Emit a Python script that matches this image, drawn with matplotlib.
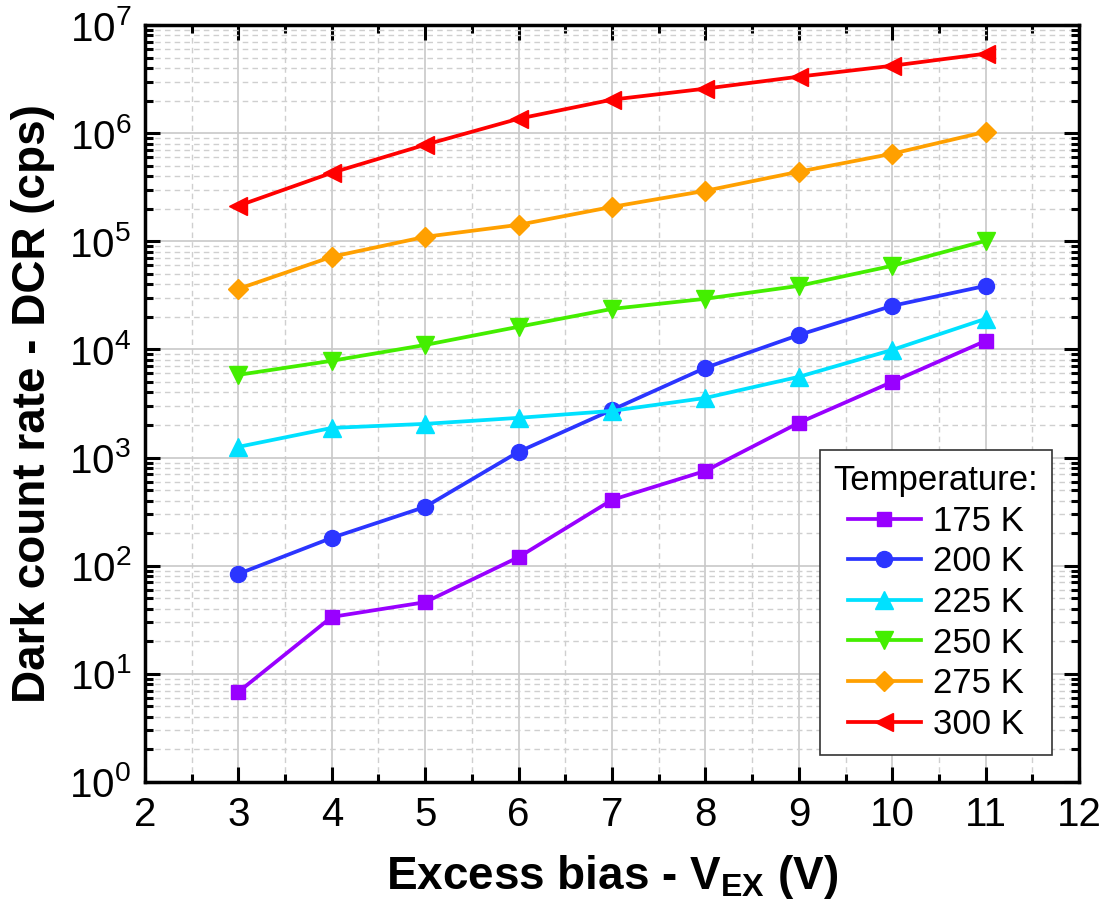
import matplotlib
matplotlib.use("Agg")
import matplotlib.pyplot as plt
from matplotlib.ticker import LogLocator, MultipleLocator, NullFormatter

plt.rcParams['font.family'] = ['Liberation Sans', 'DejaVu Sans']
plt.rcParams['mathtext.fontset'] = 'custom'
plt.rcParams['mathtext.rm'] = 'Liberation Sans'
plt.rcParams['mathtext.bf'] = 'Liberation Sans:bold'
plt.rcParams['mathtext.it'] = 'Liberation Sans:italic'

# 資料
bias = [3, 4, 5, 6, 7, 8, 9, 10, 11]
dcr_175 = [6.8, 33.6, 46, 120, 406, 753, 2095, 5010, 12000]
dcr_200 = [84, 181, 350, 1130, 2760, 6760, 13600, 25300, 38700]
dcr_225 = [1256, 1880, 2050, 2330, 2700, 3560, 5580, 9900, 19200]
dcr_250 = [5820, 7850, 11000, 16200, 23700, 29400, 38700, 59300, 101000]
dcr_275 = [36300, 71900, 110000, 142000, 208000, 293000, 440000, 645000, 1030000]
dcr_300 = [213000, 430000, 781000, 1360000, 2040000, 2580000, 3330000, 4200000, 5430000]

labels = ["175 K", "200 K", "225 K", "250 K", "275 K", "300 K"]
series = [dcr_175, dcr_200, dcr_225, dcr_250, dcr_275, dcr_300]
colors = ["#9900ff", "#2b35ff", "#00e1ff", "#44ee00", "#ffa000", "#ff0000"]
markers = ["s", "o", "^", "v", "D", "<"]
msizes = [10.5, 11.5, 12.5, 12.5, 10.5, 13.5]


def main():
    fig = plt.figure(figsize=(11.04, 9.16), dpi=100)
    ax = fig.add_axes([0.1313, 0.1463, 0.8461, 0.8264])

    for y, lab, c, m, ms in zip(series, labels, colors, markers, msizes):
        ax.plot(bias, y, color=c, marker=m, markersize=ms, linewidth=2.7,
                label=lab, zorder=3)

    ax.set_yscale('log')
    ax.set_xlim(2, 12)
    ax.set_ylim(1, 1e7)
    ax.xaxis.set_major_locator(MultipleLocator(1))
    ax.xaxis.set_minor_locator(MultipleLocator(0.5))
    ax.yaxis.set_major_locator(LogLocator(base=10, numticks=20))
    ax.yaxis.set_minor_locator(LogLocator(base=10, subs=range(2, 10), numticks=20))
    ax.yaxis.set_minor_formatter(NullFormatter())

    # 格線
    ax.grid(True, which='major', color='#c8c8c8', linestyle='-', linewidth=1.2, zorder=0)
    ax.grid(True, which='minor', color='#cfcfcf', linestyle=(0, (4, 3)), linewidth=1.0, zorder=0)
    ax.set_axisbelow(True)

    ax.tick_params(which='both', direction='in', top=True, right=True, width=2.2)
    ax.tick_params(which='major', length=11, labelsize=29, pad=10)
    ax.tick_params(which='minor', length=6)
    for s in ax.spines.values():
        s.set_linewidth(2.5)

    ax.set_xlabel(r"Excess bias - V$_{\mathbf{EX}}$ (V)", fontsize=33,
                  fontweight='bold', labelpad=14)
    ax.set_ylabel("Dark count rate - DCR (cps)", fontsize=33,
                  fontweight='bold', labelpad=10)

    leg = ax.legend(loc='lower right', title="Temperature:", fontsize=25,
                    title_fontsize=25, fancybox=False, framealpha=1,
                    edgecolor='#333333', borderpad=0.4, labelspacing=0.22,
                    handlelength=2.1, handletextpad=0.35, borderaxespad=0,
                    bbox_to_anchor=(0.971, 0.036))
    leg.get_frame().set_linewidth(1.2)

    fig.savefig("out.png", dpi=100)


if __name__ == '__main__':
    main()
